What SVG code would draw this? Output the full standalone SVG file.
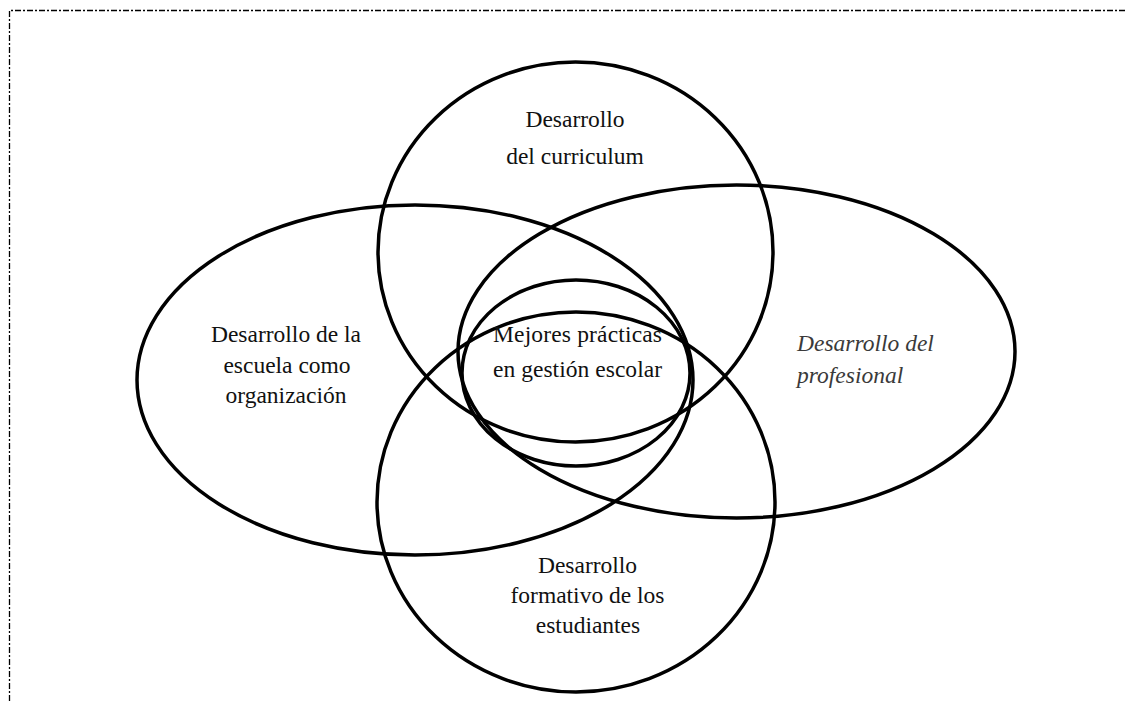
<svg xmlns="http://www.w3.org/2000/svg" width="1127" height="701" viewBox="0 0 1127 701">
<style>
.shape{fill:none;stroke:#000;stroke-width:3.5}
.lbl{font-family:"Liberation Serif","Times New Roman",Times,"DejaVu Serif",serif;font-size:23.5px;fill:#111}
.it{font-style:italic;fill:#3a3a3a;text-anchor:start}
.c{text-anchor:middle}
.frame{fill:none;stroke:#000;stroke-width:1.3;stroke-dasharray:6 2 2 2}
</style>
<rect width="1127" height="701" fill="#fff"/>
<path class="frame" d="M9.5 701 V10.5 H1127"/>
<g id="node-curriculum">
<ellipse class="shape" cx="575.5" cy="252" rx="197.5" ry="190"/>
<text class="lbl c" x="575" y="127" font-family="Liberation Serif, serif">Desarrollo</text>
<text class="lbl c" x="575" y="164" font-family="Liberation Serif, serif">del curriculum</text>
</g>
<g id="node-escuela">
<ellipse class="shape" cx="415" cy="380" rx="278" ry="175"/>
<text class="lbl c" x="286" y="342" font-family="Liberation Serif, serif">Desarrollo de la</text>
<text class="lbl c" x="287" y="373" font-family="Liberation Serif, serif">escuela como</text>
<text class="lbl c" x="286" y="403" font-family="Liberation Serif, serif">organización</text>
</g>
<g id="node-profesional">
<ellipse class="shape" cx="736.5" cy="351.5" rx="278.5" ry="166.5"/>
<text class="lbl it" x="797" y="351" font-family="Liberation Serif, serif">Desarrollo del</text>
<text class="lbl it" x="797" y="383" font-family="Liberation Serif, serif">profesional</text>
</g>
<g id="node-estudiantes">
<ellipse class="shape" cx="576" cy="502" rx="199" ry="190"/>
<text class="lbl c" x="587.5" y="573" font-family="Liberation Serif, serif">Desarrollo</text>
<text class="lbl c" x="587.5" y="603" font-family="Liberation Serif, serif">formativo de los</text>
<text class="lbl c" x="588" y="633" font-family="Liberation Serif, serif">estudiantes</text>
</g>
<g id="node-mejores">
<ellipse class="shape" cx="576" cy="373" rx="114" ry="93"/>
<text class="lbl" x="493" y="342" textLength="169" lengthAdjust="spacing" font-family="Liberation Serif, serif">Mejores prácticas</text>
<text class="lbl" x="493" y="377" textLength="169" lengthAdjust="spacing" font-family="Liberation Serif, serif">en gestión escolar</text>
</g>
<g id="connectors"></g>
</svg>
